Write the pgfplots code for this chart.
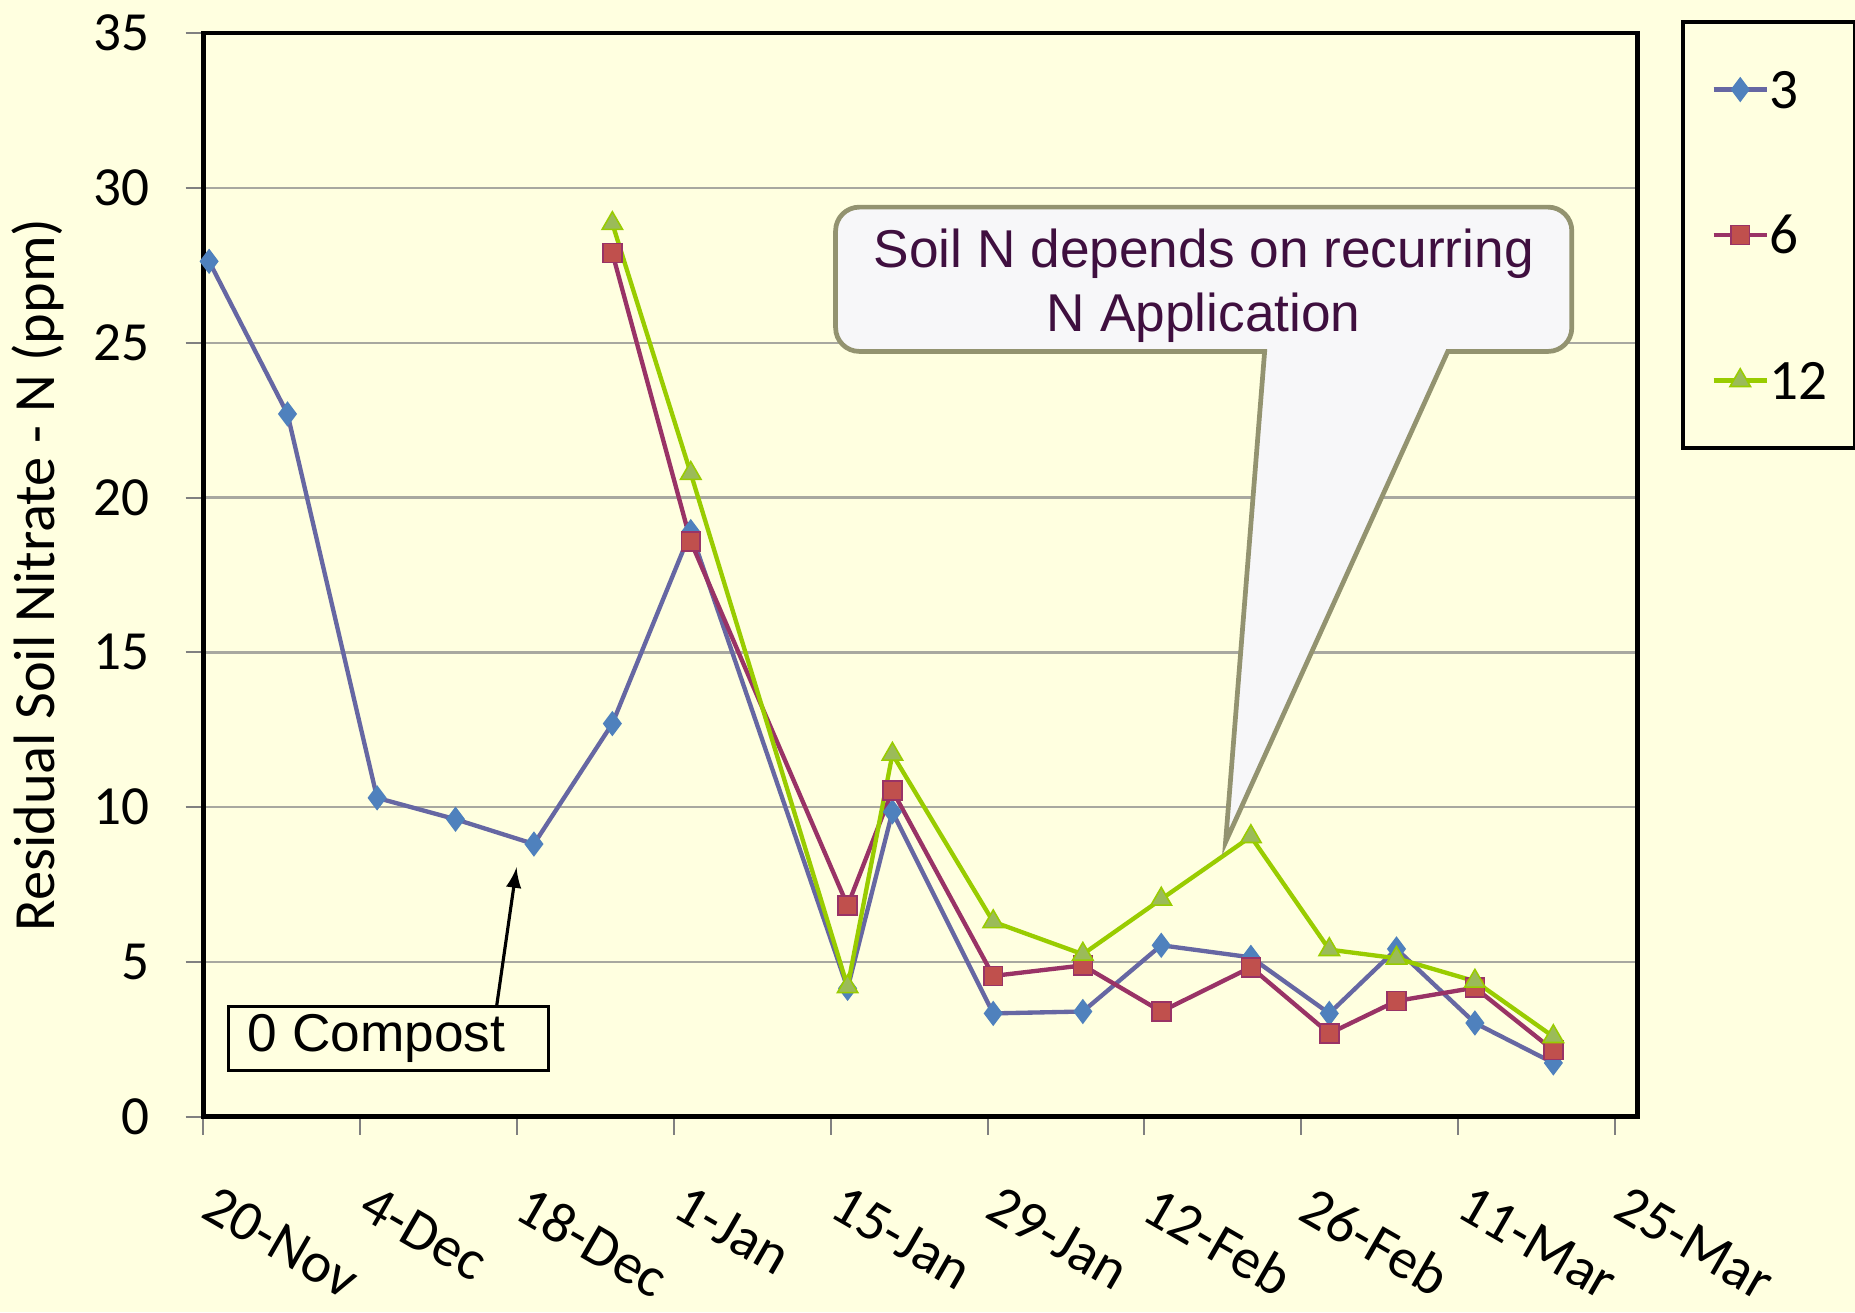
\documentclass[border=0pt]{standalone}
\usepackage{pgfplots}
\pgfplotsset{compat=1.18}
\usepackage{fontspec}
\setmainfont{Carlito}
\newfontfamily\arialfont{Liberation Sans}

\definecolor{bg}{HTML}{FFFFE0}
\definecolor{gridgray}{HTML}{A8A8A0}
\definecolor{lineA}{HTML}{6667A3}
\definecolor{markA}{HTML}{4F81BD}
\definecolor{lineB}{HTML}{993366}
\definecolor{markB}{HTML}{C0504D}
\definecolor{lineC}{HTML}{99CC00}
\definecolor{markC}{HTML}{9BBB59}
\definecolor{calloutedge}{HTML}{939370}
\definecolor{calloutfill}{HTML}{F7F7F9}
\definecolor{callouttext}{HTML}{3F0F3F}

% days after 20-Nov
\pgfplotstableread{
x y
0.5 27.63
7.5 22.70
15.5 10.30
22.5 9.61
29.5 8.81
36.5 12.70
43.5 18.90
57.5 4.15
61.5 9.85
70.5 3.34
78.5 3.40
85.5 5.54
93.5 5.15
100.5 3.34
106.5 5.42
113.5 3.03
120.5 1.74
}\dataA

\pgfplotstableread{
x y
36.5 27.90
43.5 18.58
57.5 6.82
61.5 10.54
70.5 4.55
78.5 4.89
85.5 3.40
93.5 4.83
100.5 2.69
106.5 3.74
113.5 4.17
120.5 2.15
}\dataB

\pgfplotstableread{
x y
36.5 28.85
43.5 20.78
57.5 4.20
61.5 11.71
70.5 6.30
78.5 5.25
85.5 7.03
93.5 9.05
100.5 5.40
106.5 5.12
113.5 4.38
120.5 2.59
}\dataC

\begin{document}
\begin{tikzpicture}
\useasboundingbox (-51.6pt,-49.5pt) rectangle (418.8pt,283.2pt);
\fill[bg] (-51.6pt,-49.5pt) rectangle (418.8pt,283.2pt);
\begin{axis}[
  at={(0,0)}, anchor=south west,
  scale only axis, width=363.6pt, height=274.8pt,
  xmin=0, xmax=128, ymin=0, ymax=35,
  clip=false,
  axis background/.style={fill=bg},
  axis line style={line width=1.2pt, black},
  xtick={0,14,...,126},
  xticklabels={20-Nov,4-Dec,18-Dec,1-Jan,15-Jan,29-Jan,12-Feb,26-Feb,11-Mar,25-Mar},
  ytick={0,5,...,35},
  tick align=outside, xtick pos=lower, ytick pos=left,
  major tick length=4.5pt,
  tick style={gray, line width=0.5pt},
  ymajorgrids, major grid style={color=gridgray, line width=0.6pt},
  /pgf/number format/assume math mode=true,
  tick label style={font=\fontsize{14}{14}\selectfont, inner sep=0pt},
  xticklabel style={font=\fontsize{14.5}{14.5}\selectfont, rotate=-30, anchor=north west, xshift=9.3pt, yshift=-8.8pt},
  yticklabel style={anchor=east, xshift=-9pt},
  ylabel={Residual Soil Nitrate - N (ppm)},
  ylabel style={font=\fontsize{14.8}{16}\selectfont, at={(axis description cs:-0.1155,0.5)}, anchor=center},
  legend style={at={(axis description cs:1.0305,1.012)}, anchor=north west,
    draw=black, line width=1pt, fill=bg,
    inner xsep=7.2pt, inner ysep=11.8pt, row sep=26.3pt,
    nodes={inner sep=0pt, text height=10pt, text depth=0.6pt, font=\fontsize{14.5}{15}\selectfont}},
  legend cell align=left,
  legend image code/.code={\draw[mark repeat=2,mark phase=2] plot coordinates {(0pt,0pt) (6.75pt,0pt) (13.5pt,0pt)};},
]
\addplot[lineA, line width=1.1pt, mark=diamond*, mark size=2.9pt,
  mark options={fill=markA, draw=markA, line width=0.4pt, solid}] table[x=x,y=y] {\dataA};
\addlegendentry{3}
\addplot[lineB, line width=1.1pt, mark=square*, mark size=2.4pt,
  mark options={fill=markB, draw=lineB, line width=0.4pt, solid}] table[x=x,y=y] {\dataB};
\addlegendentry{6}
\addplot[lineC, line width=1.1pt, mark=triangle*, mark size=3pt,
  mark options={fill=markC, draw=lineC, line width=0.4pt, solid}] table[x=x,y=y] {\dataC};
\addlegendentry{12}

% callout
\draw[fill=calloutfill, draw=calloutedge, line width=1.2pt]
  (axis cs:94.73,24.72) -- (axis cs:91.24,8.87) -- (axis cs:111.08,24.72)
  [rounded corners=6pt] -- (axis cs:122.15,24.72) -- (axis cs:122.15,29.38)
  -- (axis cs:56.43,29.38) -- (axis cs:56.43,24.72) [sharp corners] -- cycle;
\node[align=center, text=callouttext, font=\arialfont\fontsize{13.5}{16.2}\selectfont]
  at (axis cs:89.3,26.85) {Soil N depends on recurring\\N Application};

% 0 compost box
\draw[-latex, line width=0.8pt] (axis cs:26.16,3.55) -- (axis cs:27.95,8.06);
\draw[fill=bg, line width=0.8pt] (axis cs:2.22,1.49) rectangle (axis cs:30.8,3.55);
\node[anchor=west, inner sep=0pt, font=\arialfont\fontsize{13.5}{14}\selectfont]
  at (axis cs:3.9,2.52) {0 Compost};
\end{axis}
\end{tikzpicture}
\end{document}
